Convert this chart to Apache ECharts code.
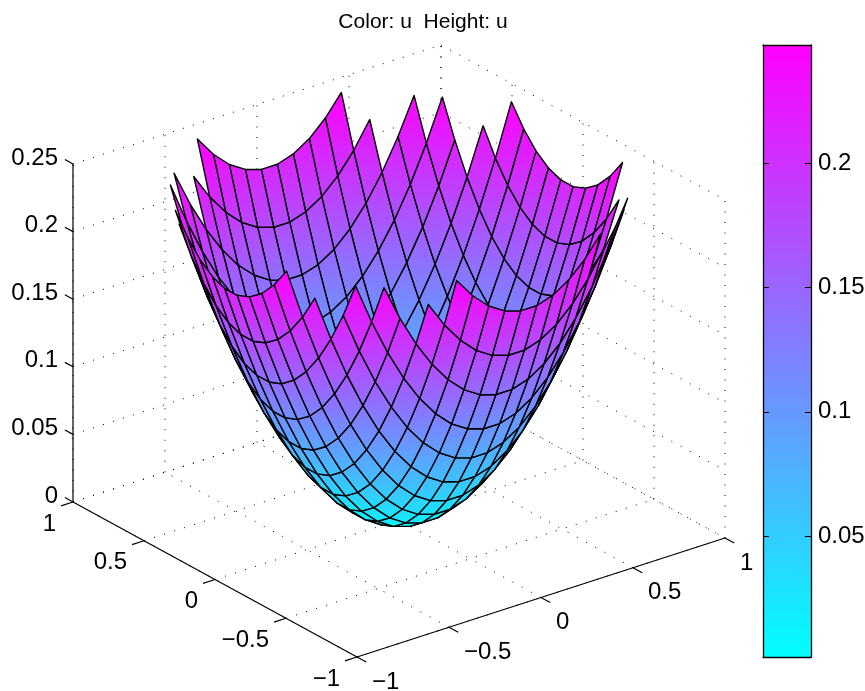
<!DOCTYPE html>
<html><head><meta charset="utf-8">
<style>html,body{margin:0;padding:0;background:#fff}#c{width:865px;height:691px}</style>
<script src="https://cdn.jsdelivr.net/npm/echarts@6/dist/echarts.min.js"></script>
</head><body><div id="c"></div>
<script>
// Mesh node positions (positive half, mirrored for the negative half)
const gridNodes = [0.0435,0.1304,0.2174,0.3043,0.3913,0.4783,0.5652,0.6522,0.7391,0.8261,0.9130];
// Heights u for one quadrant: rows |y|, columns |x|; null = outside the disk
const heightRows = [
 [0.0009,0.0047,0.0123,0.0236,0.0388,0.0577,0.0803,0.1068,0.1371,0.1711,0.2089],
 [0.0047,0.0085,0.0161,0.0274,0.0425,0.0614,0.0841,0.1106,0.1408,0.1749,0.2127],
 [0.0123,0.0161,0.0236,0.0350,0.0501,0.0690,0.0917,0.1181,0.1484,0.1824,0.2202],
 [0.0236,0.0274,0.0350,0.0463,0.0614,0.0803,0.1030,0.1295,0.1597,0.1938,0.2316],
 [0.0388,0.0425,0.0501,0.0614,0.0766,0.0955,0.1181,0.1446,0.1749,0.2089,0.2467],
 [0.0577,0.0614,0.0690,0.0803,0.0955,0.1144,0.1371,0.1635,0.1938,0.2278,null],
 [0.0803,0.0841,0.0917,0.1030,0.1181,0.1371,0.1597,0.1862,0.2164,null,null],
 [0.1068,0.1106,0.1181,0.1295,0.1446,0.1635,0.1862,0.2127,0.2429,null,null],
 [0.1371,0.1408,0.1484,0.1597,0.1749,0.1938,0.2164,0.2429,null,null,null],
 [0.1711,0.1749,0.1824,0.1938,0.2089,0.2278,null,null,null,null,null],
 [0.2089,0.2127,0.2202,0.2316,0.2467,null,null,null,null,null,null]
];
const xTicks = [-1,-0.5,0,0.5,1];
const xTickLabels = ['\u22121','\u22120.5','0','0.5','1'];
const yTicks = [-1,-0.5,0,0.5,1];
const yTickLabels = ['\u22121','\u22120.5','0','0.5','1'];
const zTicks = [0,0.05,0.1,0.15,0.2,0.25];
const zTickLabels = ['0','0.05','0.1','0.15','0.2','0.25'];
const colorTicks = [0.05,0.1,0.15,0.2];
const colorRange = [0.0014,0.2475];
const titleText = 'Color: u  Height: u';

const FONT = '"Liberation Sans", Arial, Helvetica, sans-serif';
const LABEL_SIZE = 24;

// Oblique view of the 3-D box, in the units of the hidden screen axes
const view = {o:[399,520], x:[184,-59.5], y:[-142,-77.5], z:[0,-1352]};
const depthOf = (x,y,z) => -0.527*x - 0.687*y + 3.36*z;
const project = (x,y,z) => [
  view.o[0] + view.x[0]*x + view.y[0]*y + view.z[0]*z,
  view.o[1] + view.x[1]*x + view.y[1]*y + view.z[1]*z
];

// Expand the quadrant to the full mesh
const axisNodes = gridNodes.slice().reverse().map(v => -v).concat(gridNodes);
const n = gridNodes.length;
const foldIdx = i => i < n ? n-1-i : i-n;
const H = (ix,iy) => heightRows[foldIdx(iy)][foldIdx(ix)];

const cellsList = [];
for (let iy=0; iy<2*n-1; iy++) for (let ix=0; ix<2*n-1; ix++) {
  const corners = [[ix,iy],[ix+1,iy],[ix+1,iy+1],[ix,iy+1]];
  if (corners.some(c => H(c[0],c[1]) === null)) continue;
  let d = 0;
  const pts = corners.map(c => {
    const p = [axisNodes[c[0]], axisNodes[c[1]], H(c[0],c[1])];
    d += depthOf(p[0],p[1],p[2]);
    return p;
  });
  cellsList.push({pts, d});
}
cellsList.sort((a,b) => a.d - b.d);

let uLo = Infinity, uHi = -Infinity;
heightRows.forEach(r => r.forEach(v => { if (v !== null) { uLo = Math.min(uLo,v); uHi = Math.max(uHi,v);} }));
const coolColor = u => {
  const t = Math.max(0, Math.min(1,(u-uLo)/(uHi-uLo)));
  return 'rgb(' + Math.round(255*t) + ',' + Math.round(255*(1-t)) + ',255)';
};

// Box: dotted grid lines, solid axes, ticks
const zTop = zTicks[zTicks.length-1];
const dotted = [];
xTicks.forEach(t => { dotted.push([[t,-1,0],[t,1,0]]); dotted.push([[t,1,0],[t,1,zTop]]); });
yTicks.forEach(t => { dotted.push([[-1,t,0],[1,t,0]]); dotted.push([[1,t,0],[1,t,zTop]]); });
zTicks.forEach(t => { dotted.push([[-1,1,t],[1,1,t]]); dotted.push([[1,1,t],[1,-1,t]]); });
const solid = [
  [[-1,-1,0],[1,-1,0]],
  [[-1,-1,0],[-1,1,0]],
  [[-1,1,0],[-1,1,zTop]]
];
const tickLen = 0.065;
xTicks.forEach(t => solid.push([[t,-1,0],[t,-1-tickLen,0]]));
yTicks.forEach(t => solid.push([[-1,t,0],[-1-tickLen,t,0]]));
zTicks.forEach(t => solid.push([[-1,1,t],[-1,1+0.057,t]]));

const labels = [];
xTicks.forEach((t,i) => labels.push({p:[t,-1,0], text:xTickLabels[i], dx:15, dy:25, align:'left'}));
yTicks.forEach((t,i) => labels.push({p:[-1,t,0], text:yTickLabels[i], dx:-17, dy:22, align:'right'}));
zTicks.forEach((t,i) => labels.push({p:[-1,1,t], text:zTickLabels[i], dx:-15, dy:-6, align:'right'}));

const toLine = (api, seg, style) => {
  const a = api.coord(project(...seg[0])), b = api.coord(project(...seg[1]));
  return {type:'line', shape:{x1:a[0],y1:a[1],x2:b[0],y2:b[1]}, style};
};

const chart = echarts.init(document.getElementById('c'), null, {width:865,height:691});
chart.setOption({
  animation:false,
  backgroundColor:'#fff',
  title:{text:titleText,left:418,top:7,textAlign:'center',
    textStyle:{fontFamily:FONT,fontSize:21,fontWeight:'normal',color:'#000'}},
  grid:[
    {left:0,top:0,width:865,height:691,outerBoundsMode:'none'},
    {left:763,top:45,width:48,height:612,outerBoundsMode:'none'}
  ],
  xAxis:[
    {type:'value',gridIndex:0,min:0,max:865,show:false},
    {type:'value',gridIndex:1,min:0,max:1,position:'bottom',z:6,splitLine:{show:false},axisTick:{show:false},axisLabel:{show:false},axisLine:{show:true,onZero:false,lineStyle:{color:'#000',width:1.3}}},
    {type:'value',gridIndex:1,min:0,max:1,position:'top',z:6,splitLine:{show:false},axisTick:{show:false},axisLabel:{show:false},axisLine:{show:true,onZero:false,lineStyle:{color:'#000',width:1.3}}}
  ],
  yAxis:[
    {type:'value',gridIndex:0,min:0,max:691,inverse:true,show:false},
    {type:'value',gridIndex:1,min:colorRange[0],max:colorRange[1],position:'right',z:6,splitLine:{show:false},
      axisLine:{show:true,onZero:false,lineStyle:{color:'#000',width:1.3}},
      axisTick:{show:true,inside:true,length:6,customValues:colorTicks,lineStyle:{color:'#000',width:1}},
      axisLabel:{show:true,customValues:colorTicks,margin:7,color:'#000',fontFamily:FONT,fontSize:LABEL_SIZE}},
    {type:'value',gridIndex:1,min:colorRange[0],max:colorRange[1],position:'left',z:6,splitLine:{show:false},
      axisLine:{show:true,onZero:false,lineStyle:{color:'#000',width:1.3}},
      axisTick:{show:true,inside:true,length:6,customValues:colorTicks,lineStyle:{color:'#000',width:1}},
      axisLabel:{show:false}}
  ],
  series:[
    {type:'custom',name:'dotted grid',xAxisIndex:0,yAxisIndex:0,clip:false,silent:true,z:1,
      data:dotted.map((_,i)=>[i]),
      renderItem:(params,api)=>toLine(api,dotted[params.dataIndex],{stroke:'#000',lineWidth:1,lineDash:[1,9.5],fill:null})},
    {type:'custom',name:'axes',xAxisIndex:0,yAxisIndex:0,clip:false,silent:true,z:2,
      data:solid.map((_,i)=>[i]),
      renderItem:(params,api)=>toLine(api,solid[params.dataIndex],{stroke:'#000',lineWidth:1.2,fill:null})},
    {type:'custom',name:'tick labels',xAxisIndex:0,yAxisIndex:0,clip:false,silent:true,z:2,
      data:labels.map((_,i)=>[i]),
      renderItem:(params,api)=>{
        const l = labels[params.dataIndex];
        const c = api.coord(project(...l.p));
        return {type:'text',x:c[0]+l.dx,y:c[1]+l.dy,style:{text:l.text,fill:'#000',
          font:LABEL_SIZE+'px '+FONT,align:l.align,verticalAlign:'middle'}};
      }},
    {type:'custom',name:'surface',xAxisIndex:0,yAxisIndex:0,clip:false,silent:true,z:3,
      data:cellsList.map((_,i)=>[i]),
      renderItem:(params,api)=>{
        const cell = cellsList[params.dataIndex];
        const pts = cell.pts.map(p=>api.coord(project(p[0],p[1],p[2])));
        let lo=0,hi=0;
        cell.pts.forEach((p,i)=>{ if(p[2]<cell.pts[lo][2]) lo=i; if(p[2]>cell.pts[hi][2]) hi=i; });
        const fill = new echarts.graphic.LinearGradient(pts[hi][0],pts[hi][1],pts[lo][0],pts[lo][1],[
          {offset:0,color:coolColor(cell.pts[hi][2])},
          {offset:1,color:coolColor(cell.pts[lo][2])}
        ],true);
        return {type:'polygon',shape:{points:pts},style:{fill,stroke:'#000',lineWidth:1.4,lineJoin:'round'}};
      }},
    {type:'custom',name:'colorbar',xAxisIndex:1,yAxisIndex:1,clip:true,silent:true,z:3,
      data:[[0]],
      renderItem:(params,api)=>{
        const a = api.coord([0,colorRange[1]]), b = api.coord([1,colorRange[0]]);
        return {type:'rect',shape:{x:a[0],y:a[1],width:b[0]-a[0],height:b[1]-a[1]},
          style:{fill:new echarts.graphic.LinearGradient(0,0,0,1,[
            {offset:0,color:'rgb(255,0,255)'},{offset:1,color:'rgb(0,255,255)'}])}};
      }}
  ]
});
</script></body></html>
